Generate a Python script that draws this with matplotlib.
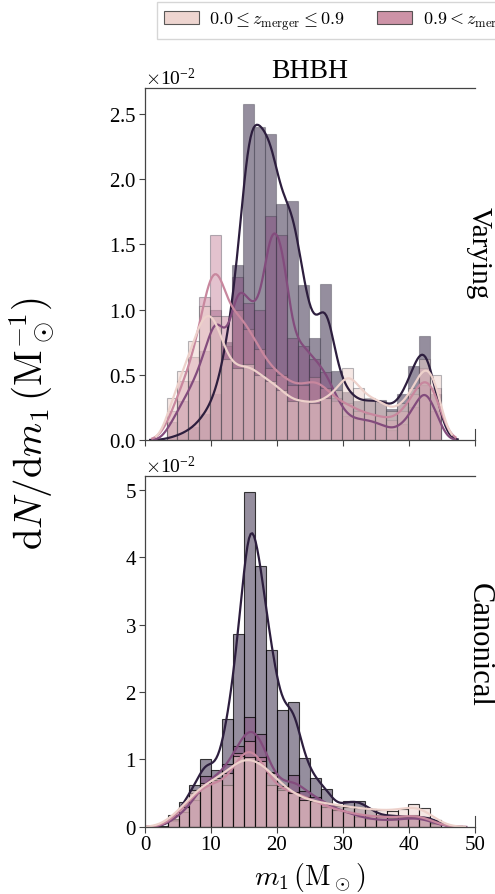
import numpy as np
import matplotlib
matplotlib.use('Agg')
import matplotlib.pyplot as plt
import seaborn as sns
from matplotlib.patches import Patch
from matplotlib.ticker import MultipleLocator

plt.rcParams['font.family'] = ['Liberation Serif', 'DejaVu Serif']
plt.rcParams['mathtext.fontset'] = 'cm'

# ---------------- data ----------------
legend_labels = [r'$0.0 \leq z_{\rm merger} \leq 0.9$',
                 r'$0.9 < z_{\rm merger} \leq 2.0$',
                 r'$2.0 < z_{\rm merger} \leq 4.0$',
                 r'$4.0 < z_{\rm merger} \leq 10.0$']
panel_names = ['Varying', 'Canonical']
title = 'BHBH'

# Varying panel: 25 bins from 3.26 to 44.9 Msun (values in units of 1e-2)
varying_edges = (3.26, 44.9, 25)
varying_z1 = [0.32, 0.53, 0.76, 1.03, 0.95, 0.62, 0.55, 0.58, 0.50, 0.45, 0.38, 0.30, 0.30,
              0.28, 0.32, 0.38, 0.55, 0.40, 0.32, 0.30, 0.22, 0.28, 0.40, 0.62, 0.50]
varying_z2 = [0.22, 0.45, 0.64, 1.10, 1.57, 0.95, 1.00, 0.85, 0.70, 0.55, 0.50, 0.42, 0.42,
              0.48, 0.40, 0.30, 0.28, 0.22, 0.20, 0.18, 0.15, 0.22, 0.35, 0.55, 0.40]
varying_z3 = [0.14, 0.30, 0.45, 0.68, 1.00, 0.72, 1.25, 1.05, 1.00, 1.72, 1.57, 0.78, 0.72,
              0.62, 0.52, 0.32, 0.18, 0.16, 0.15, 0.12, 0.08, 0.12, 0.25, 0.42, 0.22]
varying_z4 = [0.02, 0.05, 0.10, 0.20, 0.35, 0.75, 1.34, 2.58, 2.40, 2.35, 1.81, 1.83, 1.19,
              0.78, 1.20, 0.53, 0.37, 0.30, 0.30, 0.31, 0.24, 0.35, 0.57, 0.80, 0.35]

# Canonical panel: 26 bins from 1.76 to 44.9 Msun (values in units of 1e-2)
canonical_edges = (1.76, 44.9, 26)
canonical_z1 = [0.00, 0.18, 0.30, 0.55, 0.65, 0.72, 0.80, 1.05, 1.04, 0.98, 0.80, 0.60, 0.50,
                0.40, 0.38, 0.35, 0.32, 0.30, 0.28, 0.26, 0.25, 0.24, 0.26, 0.34, 0.28, 0.10]
canonical_z2 = [0.00, 0.12, 0.30, 0.50, 0.62, 0.69, 0.62, 1.09, 1.28, 1.04, 0.62, 0.55, 0.52,
                0.45, 0.38, 0.30, 0.25, 0.22, 0.18, 0.16, 0.15, 0.14, 0.15, 0.18, 0.15, 0.06]
canonical_z3 = [0.00, 0.10, 0.22, 0.40, 0.75, 0.70, 0.94, 1.20, 1.63, 1.38, 0.81, 0.57, 0.77,
                0.53, 0.45, 0.35, 0.25, 0.22, 0.15, 0.12, 0.10, 0.10, 0.12, 0.14, 0.12, 0.05]
canonical_z4 = [0.02, 0.09, 0.37, 0.62, 1.00, 0.85, 1.60, 2.86, 4.96, 3.87, 2.62, 1.73, 1.85,
                1.02, 0.72, 0.56, 0.31, 0.38, 0.38, 0.27, 0.17, 0.17, 0.15, 0.14, 0.15, 0.10]

scale = 1e-2
# --------------------------------------

colors = sns.cubehelix_palette(4)

fig = plt.figure(figsize=(4.95, 8.95), dpi=100)
ax1 = fig.add_axes([0.2929, 0.5073, 0.6667, 0.3933])
ax2 = fig.add_axes([0.2929, 0.0749, 0.6667, 0.3921])

panels = [
    (ax1, varying_edges, [varying_z1, varying_z2, varying_z3, varying_z4],
     [1.25, 1.4, 1.1, 1.2], (0.2, 0.2, 0.25, 0.35), 0.027, 0.005),
    (ax2, canonical_edges, [canonical_z1, canonical_z2, canonical_z3, canonical_z4],
     [1.8, 1.6, 1.5, 1.1], (0.0, 0.0, 0.0, 0.75), 0.052, 0.01),
]

for ax, (lo, hi, nb), series, bws, ec, ytop, ystep in panels:
    edges = np.linspace(lo, hi, nb + 1)
    centers = 0.5 * (edges[:-1] + edges[1:])
    for h, c, bw in reversed(list(zip(series, colors, bws))):
        w = np.asarray(h) * scale
        std = np.sqrt(np.cov(centers, aweights=np.maximum(w, 1e-9)))
        sns.histplot(x=centers, weights=w, bins=edges.tolist(), stat='count', kde=True,
                     color=c, alpha=0.5, edgecolor=ec, linewidth=0.8,
                     kde_kws={'bw_method': bw / std, 'cut': 2},
                     line_kws={'linewidth': 1.6}, ax=ax)
    ax.set_xlim(0, 50)
    ax.set_ylim(0, ytop)
    ax.yaxis.set_major_locator(MultipleLocator(ystep))
    ax.xaxis.set_major_locator(MultipleLocator(10))
    ax.ticklabel_format(axis='y', style='sci', scilimits=(0, 0), useMathText=True)
    ax.yaxis.get_offset_text().set_fontsize(14)
    ax.set_ylabel('')
    ax.set_xlabel('')
    for s in ['left', 'bottom', 'top']:
        ax.spines[s].set_color('#444444')
        ax.spines[s].set_linewidth(0.9)
    ax.spines['right'].set_bounds(0, ytop * 0.03)
    ax.spines['right'].set_color('#444444')
    ax.tick_params(direction='out', length=4, width=0.8, color='#444444',
                   labelsize=15, pad=2)

ax1.tick_params(axis='x', labelbottom=False)
ax1.set_title(title, fontsize=20, pad=8)
ax2.set_xlabel(r'$m_1\,(\mathrm{M}_\odot)$', fontsize=20, labelpad=4)

fig.text(0.064, 0.527, r'$\mathrm{d}N/\mathrm{d}m_1\,(\mathrm{M}_\odot^{-1})$',
         rotation=90, fontsize=28, ha='center', va='center')
fig.text(0.968, 0.717, panel_names[0], rotation=270, fontsize=21, ha='center', va='center')
fig.text(0.968, 0.279, panel_names[1], rotation=270, fontsize=22, ha='center', va='center')

handles = [Patch(facecolor=matplotlib.colors.to_rgba(c, 0.9), edgecolor=(0.2, 0.2, 0.2, 0.8),
                 linewidth=0.8) for c in colors]
fig.legend(handles, legend_labels, loc='upper left', bbox_to_anchor=(157 / 495, 1 - 3 / 895),
           borderaxespad=0, ncol=4, fontsize=13, frameon=True, fancybox=False,
           edgecolor='#cccccc', handlelength=1.9, handletextpad=0.6, columnspacing=1.8,
           borderpad=0.4)

fig.savefig('out.png', dpi=100)
